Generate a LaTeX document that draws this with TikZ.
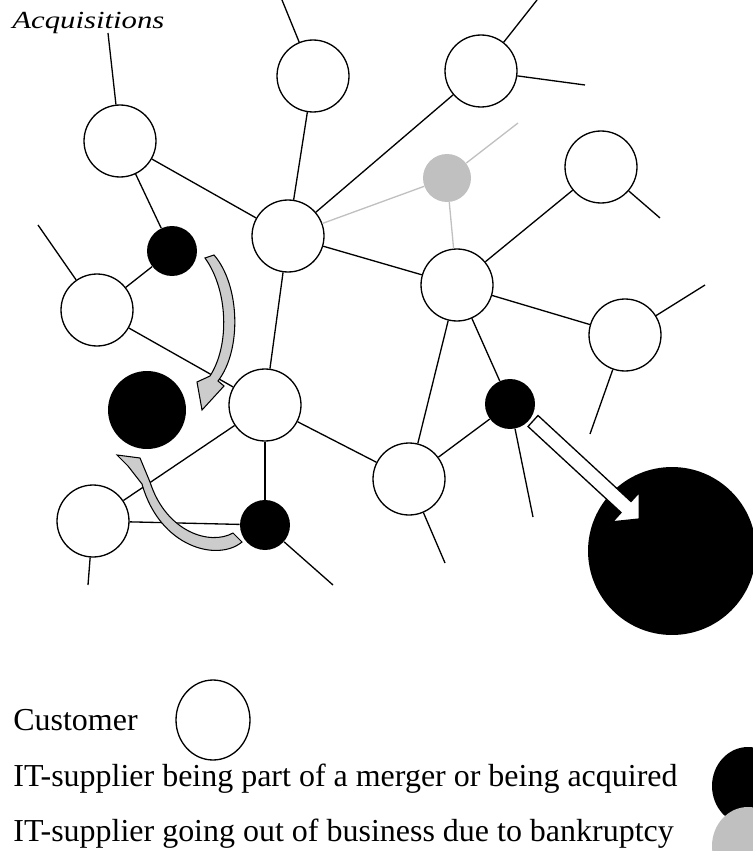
\documentclass[tikz,border=0pt]{standalone}
\usepackage{fontspec}
\setmainfont{Liberation Serif}
\usetikzlibrary{positioning,shapes.geometric}
\definecolor{bankrupt}{RGB}{192,192,192}
\definecolor{flow}{RGB}{204,204,204}
\newcommand\legfont{\fontsize{18.2}{21}\selectfont}
\tikzset{cust/.style={circle,draw,fill=white,line width=0.75pt,inner sep=0pt,minimum size=1.44cm},
  merge/.style={circle,fill=black,inner sep=0pt,minimum size=1cm},
  gone/.style={circle,fill=bankrupt,inner sep=0pt,minimum size=0.96cm},
  link/.style={line width=0.75pt},
  glink/.style={line width=0.75pt,draw=bankrupt},
  swing/.style={draw,fill=flow,line width=0.6pt,line join=miter},
  legtext/.style={anchor=base west,font=\legfont,inner sep=0pt}}

\begin{document}
\begin{tikzpicture}[x=0.02cm,y=-0.02cm]
\useasboundingbox (0,0) rectangle (752,851);
\node[anchor=base west,inner sep=0pt,font=\itshape\fontsize{14}{16}\selectfont] (title) at (12,29) {\scalebox{1.25}[1]{Acquisitions}};

\node[cust] (c1) at (120,141) {};
\node[cust] (c2) at (313,76) {};
\node[cust] (c3) at (481,71) {};
\node[cust] (c4) at (601,167) {};
\node[cust] (c5) at (288,236) {};
\node[cust] (c6) at (97,310) {};
\node[cust] (c7) at (457,285) {};
\node[cust] (c8) at (265,405) {};
\node[cust] (c9) at (93,521) {};
\node[cust] (c10) at (409,479) {};
\node[cust] (c11) at (625,335) {};
\node[merge] (b1) at (172,251) {};
\node[merge] (b2) at (265,525) {};
\node[merge] (b3) at (510,404) {};
\node[merge,minimum size=1.56cm] (big1) at (147,410) {};
\node[merge,minimum size=3.36cm] (big2) at (672,551) {};
\node[gone] (g1) at (447,178) {};

\coordinate (s1) at (108,33);
\coordinate (s2) at (282,0);
\coordinate (s3a) at (537,0);
\coordinate (s3b) at (585,85);
\coordinate (s4) at (660,218);
\coordinate (s6) at (38,225);
\coordinate (s9) at (88,585);
\coordinate (sb2) at (333,585);
\coordinate (s10) at (445,563);
\coordinate (sb3) at (533,517);
\coordinate (s11a) at (705,285);
\coordinate (s11b) at (590,434);
\coordinate (sg) at (518,123);

\draw[link] (c1) -- (s1);
\draw[link] (c1) -- (b1);
\draw[link] (c1) -- (c5);
\draw[link] (c2) -- (s2);
\draw[link] (c2) -- (c5);
\draw[link] (c3) -- (s3a);
\draw[link] (c3) -- (s3b);
\draw[link] (c3) -- (c5);
\draw[link] (c4) -- (s4);
\draw[link] (c4) -- (c7);
\draw[link] (b1) -- (c6);
\draw[link] (c6) -- (s6);
\draw[link] (c6) -- (c8);
\draw[link] (c5) -- (c7);
\draw[link] (c5) -- (c8);
\draw[link] (c7) -- (c11);
\draw[link] (c7) -- (b3);
\draw[link] (c7) -- (c10);
\draw[link] (c11) -- (s11a);
\draw[link] (c11) -- (s11b);
\draw[link] (c8) -- (c9);
\draw[link] (c8) -- (c10);
\draw[link] (c8) -- (b2);
\draw[link] (c9) -- (b2);
\draw[link] (c9) -- (s9);
\draw[link] (b2) -- (sb2);
\draw[link] (c10) -- (b3);
\draw[link] (c10) -- (s10);
\draw[link] (b3) -- (sb3);
\draw[glink] (g1) -- (sg);
\draw[glink] (g1) -- (c5);
\draw[glink] (g1) -- (c7);

\draw[swing] (205,258) -- (214,255) .. controls (240,285) and (242,350) .. (218,381) -- (224,386) -- (202,410) -- (197,382) -- (210,376) .. controls (230,345) and (228,290) .. (205,258) -- cycle;
\draw[swing] (233,533) -- (242,542) .. controls (218,562) and (160,548) .. (142,484) -- (128,466) -- (117,455) -- (140,458) -- (150,482) .. controls (166,532) and (210,546) .. (233,533) -- cycle;
\draw[line width=0.75pt,fill=white] (528,426.5) -- (538,415.5) -- (631,501.5) -- (639.4,492.2) -- (639.3,519) -- (612.6,521.8) -- (621,512.5) -- cycle;

\node[legtext] (lt1) at (13,730) {Customer};
\node[legtext] (lt2) at (13,786) {IT-supplier being part of a merger or being acquired};
\node[legtext] (lt3) at (13,841) {IT-supplier going out of business due to bankruptcy};
\node[ellipse,draw,line width=0.75pt,inner sep=0pt,minimum width=1.48cm,minimum height=1.6cm] (lcust) at (213,720) {};
\node[ellipse,fill=black,inner sep=0pt,minimum width=1.44cm,minimum height=1.56cm] (lmerge) at (748,786) {};
\node[ellipse,fill=bankrupt,inner sep=0pt,minimum width=1.44cm,minimum height=1.56cm] (lgone) at (748,846) {};
\end{tikzpicture}
\end{document}
